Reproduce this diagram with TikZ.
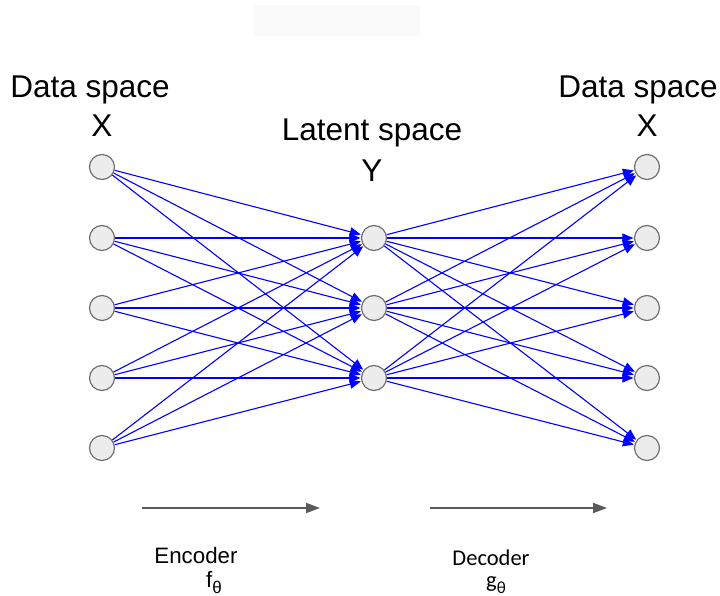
\documentclass[tikz,border=0pt]{standalone}
\usepackage{fontspec}
\setmainfont{Liberation Sans}
\newfontfamily\decfont{Carlito}
\usetikzlibrary{arrows.meta}
\definecolor{nodefill}{HTML}{ECECEC}
\definecolor{nodeline}{HTML}{707070}
\definecolor{flowgray}{HTML}{5A5A5A}
\definecolor{faintbox}{HTML}{FAFAFA}
\begin{document}
\begin{tikzpicture}[x=1pt,y=-1pt,
  unit/.style={circle,draw=nodeline,fill=nodefill,line width=1.2pt,minimum size=25pt,inner sep=0pt},
  link/.style={draw={rgb,255:red,0;green,0;blue,255},line width=1.1pt,-{Triangle[length=11pt,width=9pt]},shorten >=0.5pt},
  flow/.style={draw=flowgray,line width=2pt,-{Triangle[length=14pt,width=10pt]}},
  big/.style={font=\fontsize{31.5}{36}\selectfont,inner sep=0pt},
  small/.style={font=\fontsize{22.3}{25}\selectfont,inner sep=0pt},
  decsty/.style={font=\decfont\fontsize{22.5}{25}\selectfont,inner sep=0pt}]
\useasboundingbox (0,0) rectangle (720,596);
\fill[faintbox] (254,5) rectangle (420,36);
% labels
\node[big] (ldata) at (90,90) {Data space};
\node[big] (lx) at (102,126) {X};
\node[big] (lat) at (372,133) {Latent space};
\node[big] (ly) at (372,171) {Y};
\node[big] (rdata) at (638,90) {Data space};
\node[big] (rx) at (647,126) {X};
% nodes
\foreach \i/\y in {1/167,2/238,3/308,4/378,5/448} {
  \node[unit] (a\i) at (102,\y) {};
  \node[unit] (c\i) at (647,\y) {};
}
\foreach \i/\y in {1/238,2/308,3/378} {
  \node[unit] (b\i) at (374,\y) {};
}
\foreach \i in {1,...,5} {
  \foreach \j in {1,2,3} {
    \draw[link] (a\i) -- (b\j);
    \draw[link] (b\j) -- (c\i);
  }
}
% flow arrows
\coordinate (e1) at (142,508);
\coordinate (e2) at (320,508);
\coordinate (d1) at (430,508);
\coordinate (d2) at (607,508);
\draw[flow] (e1) -- (e2);
\draw[flow] (d1) -- (d2);
\node[small,anchor=base] (enc) at (196,563) {Encoder};
\node[small,anchor=base west] (fth) at (206,587) {f\raisebox{-6pt}{\fontsize{17}{17}\selectfont θ}};
\node[decsty,anchor=base] (dec) at (491,565) {Decoder};
\node[decsty,anchor=base west,text height=10pt] (gth) at (486,587) {g\raisebox{-6pt}{\fontsize{17}{17}\selectfont θ}};
\end{tikzpicture}
\end{document}
